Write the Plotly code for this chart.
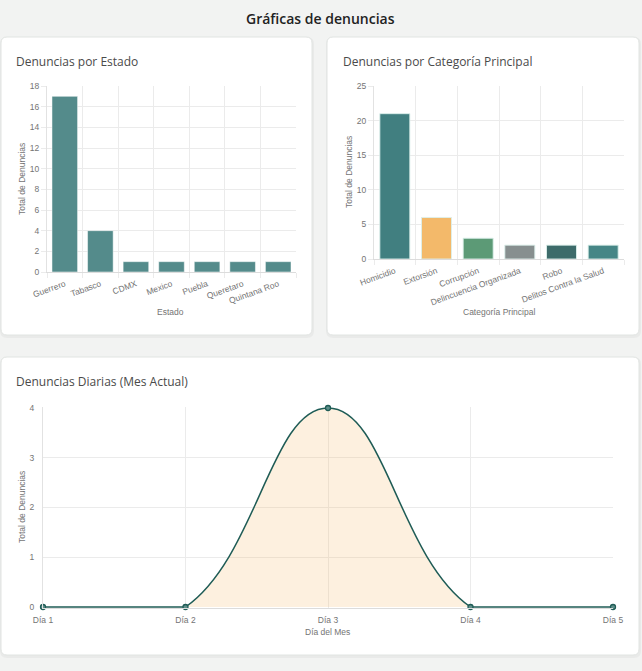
import math
import plotly.graph_objects as go

# ---------------- data ----------------
estados = ["Guerrero", "Tabasco", "CDMX", "Mexico", "Puebla", "Queretaro", "Quintana Roo"]
denuncias_estado = [17, 4, 1, 1, 1, 1, 1]

categorias = ["Homicidio", "Extorsión", "Corrupción", "Delincuencia Organizada", "Robo",
              "Delitos Contra la Salud"]
denuncias_categoria = [21, 6, 3, 2, 2, 2]
colores_categoria = ["#417f80", "#f3b96a", "#5c9a76", "#878f8f", "#3d6b6a", "#468686"]

dias = ["Día 1", "Día 2", "Día 3", "Día 4", "Día 5"]
denuncias_diarias = [0, 0, 4, 0, 0]

# ---------------- layout helpers ----------------
W, H = 642, 671
BG = "#f2f3f2"
TXT = "#747474"
GRID = "#ebebeb"
AX_FONT = "Liberation Sans, Arial, sans-serif"
TITLE_FONT = "Open Sans, Noto Sans, sans-serif"


def px(x):
    return x / W


def py(y):
    return 1 - y / H


def rounded_rect(x0, y0, x1, y1, r):
    rx, ry = r / W, r / H
    X0, X1 = px(x0), px(x1)
    Y0, Y1 = py(y0), py(y1)  # Y0 top (larger), Y1 bottom
    return (f"M {X0 + rx},{Y0} L {X1 - rx},{Y0} Q {X1},{Y0} {X1},{Y0 - ry} "
            f"L {X1},{Y1 + ry} Q {X1},{Y1} {X1 - rx},{Y1} "
            f"L {X0 + rx},{Y1} Q {X0},{Y1} {X0},{Y1 + ry} "
            f"L {X0},{Y0 - ry} Q {X0},{Y0} {X0 + rx},{Y0} Z")


cards = [(1, 37, 312, 335), (327, 37, 639, 335), (1, 357, 639, 655)]
shapes = []
for (a, b, c, d) in cards:
    shapes.append(dict(type="path", xref="paper", yref="paper", layer="below",
                       path=rounded_rect(a - 1, b, c + 2, d + 3, 7),
                       fillcolor="rgba(0,0,0,0.035)", line=dict(width=0)))
    shapes.append(dict(type="path", xref="paper", yref="paper", layer="below",
                       path=rounded_rect(a, b, c, d, 6),
                       fillcolor="white", line=dict(color="#e1e4e2", width=1)))

# plot areas (pixels)
P1 = (47, 86, 296, 272)
P2 = (374, 86, 624, 259)
P3 = (43, 407, 613, 608)

fig = go.Figure()

fig.add_trace(go.Bar(x=estados, y=denuncias_estado, marker=dict(color="#548b8b",
                     line=dict(color="rgba(255,255,255,0.5)", width=1)),
                     xaxis="x", yaxis="y", showlegend=False))
fig.add_trace(go.Bar(x=categorias, y=denuncias_categoria,
                     marker=dict(color=colores_categoria,
                                 line=dict(color="rgba(220,240,235,0.9)", width=1)),
                     xaxis="x2", yaxis="y2", showlegend=False))

# ---------------- smooth line (Chart.js tension 0.4) ----------------
idx = list(range(len(dias)))
Y3_MIN, Y3_MAX = 0, 4
sx = (P3[2] - P3[0]) / (len(dias) - 1)
sy = (P3[3] - P3[1]) / (Y3_MAX - Y3_MIN)
pts = [(i * sx, v * sy) for i, v in zip(idx, denuncias_diarias)]
n = len(pts)
cps = []
for i in range(n):
    prev = pts[i - 1] if i > 0 else pts[i]
    cur = pts[i]
    nxt = pts[i + 1] if i < n - 1 else pts[i]
    d01 = math.dist(cur, prev)
    d12 = math.dist(nxt, cur)
    s = d01 + d12
    s01 = d01 / s if s else 0
    s12 = d12 / s if s else 0
    fa, fb = 0.4 * s01, 0.4 * s12
    cp_prev = (cur[0] - fa * (nxt[0] - prev[0]), cur[1] - fa * (nxt[1] - prev[1]))
    cp_next = (cur[0] + fb * (nxt[0] - prev[0]), cur[1] + fb * (nxt[1] - prev[1]))
    cps.append((cp_prev, cp_next))


def to_data(p):
    x = min(max(p[0] / sx, idx[0]), idx[-1])
    y = min(max(p[1] / sy, Y3_MIN), Y3_MAX)
    return f"{x:.5f},{y:.5f}"


curve = f"M {to_data(pts[0])}"
for i in range(n - 1):
    curve += f" C {to_data(cps[i][1])} {to_data(cps[i + 1][0])} {to_data(pts[i + 1])}"
fill_path = curve + f" L {idx[-1]},0 L {idx[0]},0 Z"

shapes.append(dict(type="path", xref="x3", yref="y3", layer="between", path=fill_path,
                   fillcolor="rgba(243,178,97,0.2)", line=dict(width=0)))
shapes.append(dict(type="path", xref="x3", yref="y3", layer="between", path=curve,
                   line=dict(color="#1f5c56", width=1.5)))

fig.add_trace(go.Scatter(x=idx, y=denuncias_diarias, mode="markers", cliponaxis=False,
                         marker=dict(size=5, color="#5f8f8a",
                                     line=dict(color="#1f5c56", width=1.3)),
                         xaxis="x3", yaxis="y3", showlegend=False))

# ---------------- axes ----------------
tickfont = dict(family=AX_FONT, size=8.5, color=TXT)


def yax(p, rng, dtick):
    return dict(domain=[py(p[3]), py(p[1])], range=rng, dtick=dtick, tick0=0,
                showgrid=True, gridcolor=GRID, gridwidth=1, zeroline=False,
                showline=True, linecolor="#e2e2e2", ticks="outside", ticklen=5,
                tickcolor=GRID, tickfont=tickfont, fixedrange=True, automargin=False)


def xax(p, anchor):
    return dict(domain=[px(p[0]), px(p[2])], anchor=anchor, showgrid=True, gridcolor=GRID,
                zeroline=False, showline=True, linecolor="#dcdcdc", ticks="outside",
                ticklen=5, tickcolor=GRID, tickfont=tickfont, fixedrange=True,
                automargin=False)


xaxis = xax(P1, "y")
xaxis.update(type="category", tickson="boundaries", tickangle=-20, ticklabelstandoff=3)
xaxis2 = xax(P2, "y2")
xaxis2.update(type="category", tickson="boundaries", tickangle=-20, ticklabelstandoff=3)
xaxis3 = xax(P3, "y3")
xaxis3.update(type="linear", range=[idx[0], idx[-1]], tickvals=idx, ticktext=dias,
              ticks="", ticklabelstandoff=4)

yaxis = yax(P1, [0, 18], 2)
yaxis.update(anchor="x")
yaxis2 = yax(P2, [0, 25], 5)
yaxis2.update(anchor="x2")
yaxis3 = yax(P3, [-0.02, 4.02], 1)
yaxis3.update(anchor="x3", ticks="", ticklabelstandoff=6)
yaxis3.update(tickvals=[0, 1, 2, 3, 4], dtick=None)

# ---------------- text ----------------
ann = []


def text(x, y, s, size, color, family, xanchor="center", angle=0, weight="normal"):
    ann.append(dict(x=px(x), y=py(y), xref="paper", yref="paper", text=s, showarrow=False,
                    xanchor=xanchor, yanchor="middle", textangle=angle,
                    font=dict(size=size, color=color, family=family, weight=weight)))


text(320, 18, "Gráficas de denuncias", 14, "#222222", TITLE_FONT, weight=600)
text(14, 61, "Denuncias por Estado", 12, "#4a4a4a", TITLE_FONT, xanchor="left")
text(341, 61, "Denuncias por Categoría Principal", 12, "#4a4a4a", TITLE_FONT, xanchor="left")
text(14, 381, "Denuncias Diarias (Mes Actual)", 12, "#4a4a4a", TITLE_FONT, xanchor="left")

text(22, 179, "Total de Denuncias", 8.5, TXT, AX_FONT, angle=-90)
text(349, 172, "Total de Denuncias", 8.5, TXT, AX_FONT, angle=-90)
text(22, 507, "Total de Denuncias", 8.5, TXT, AX_FONT, angle=-90)
text(171, 312, "Estado", 8.5, TXT, AX_FONT)
text(499, 312, "Categoría Principal", 8.5, TXT, AX_FONT)
text(328, 632, "Día del Mes", 8.5, TXT, AX_FONT)

fig.update_layout(
    width=W, height=H, autosize=False,
    margin=dict(l=0, r=0, t=0, b=0, pad=0),
    paper_bgcolor=BG, plot_bgcolor="rgba(0,0,0,0)",
    bargap=0.28,
    xaxis=xaxis, yaxis=yaxis, xaxis2=xaxis2, yaxis2=yaxis2, xaxis3=xaxis3, yaxis3=yaxis3,
    shapes=shapes, annotations=ann, showlegend=False,
)

fig.write_html("out.html", config={"displayModeBar": False})
